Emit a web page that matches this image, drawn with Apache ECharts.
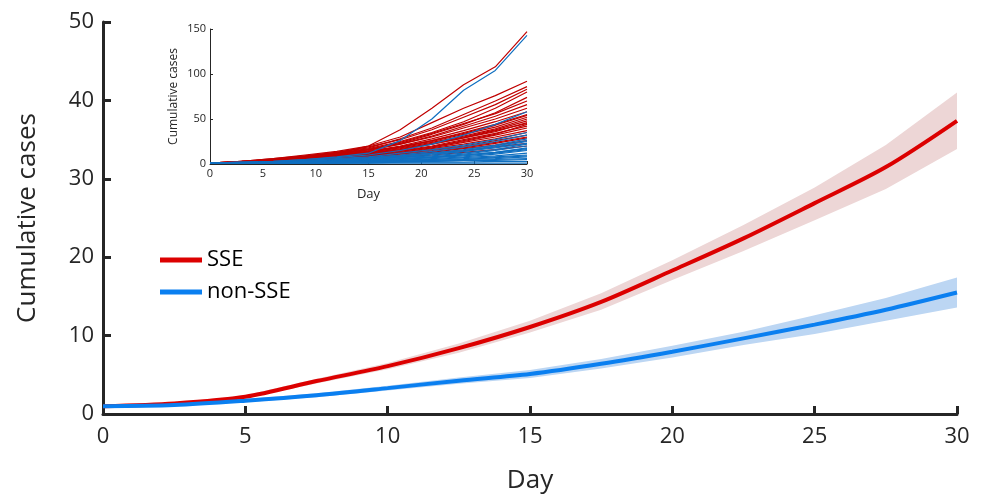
<!DOCTYPE html>
<html>
<head>
<meta charset="utf-8">
<script src="https://cdn.jsdelivr.net/npm/echarts@6/dist/echarts.min.js"></script>
<style>
  html, body { margin: 0; background: #fff; }
  #chart { width: 981px; height: 500px; }
</style>
</head>
<body>
<div id="chart"></div>
<script>
// main panel: mean curves with bands, read every 2.5 days
const days = [0, 2.5, 5, 7.5, 10, 12.5, 15, 17.5, 20, 22.5, 25, 27.5, 30];
const sseMean = [1.0, 1.35, 2.2, 4.2, 6.1, 8.4, 11.1, 14.3, 18.3, 22.4, 26.9, 31.5, 37.4];
const sseLow  = [1.0, 1.25, 2.0, 3.9, 5.7, 7.8, 10.4, 13.3, 17.1, 20.8, 24.7, 28.7, 33.8];
const sseHigh = [1.0, 1.45, 2.4, 4.5, 6.5, 9.0, 11.9, 15.4, 19.6, 24.1, 28.9, 34.3, 41.0];
const nonMean = [1.0, 1.15, 1.7, 2.4, 3.3, 4.25, 5.1, 6.4, 7.95, 9.65, 11.4, 13.3, 15.5];
const nonLow  = [0.9, 1.05, 1.5, 2.15, 3.0, 3.85, 4.6, 5.8, 7.2, 8.8, 10.2, 11.9, 13.6];
const nonHigh = [1.1, 1.25, 1.9, 2.65, 3.6, 4.65, 5.6, 7.0, 8.7, 10.5, 12.6, 14.8, 17.4];

// inset: individual runs, read every 3 days
const insetDays = [0, 3, 6, 9, 12, 15, 18, 21, 24, 27, 30];
const sseRuns = [
  [1, 3, 5, 8, 12, 20, 38, 62, 88, 108, 147],
  [1, 3, 6, 10, 14, 20, 30, 46, 62, 76, 92],
  [1, 2, 5, 9, 13, 18, 28, 40, 55, 70, 86],
  [1, 3, 6, 9, 13, 19, 27, 38, 52, 66, 83],
  [1, 2, 4, 8, 12, 17, 25, 35, 47, 62, 80],
  [1, 2, 4, 7, 11, 16, 23, 33, 44, 57, 74],
  [1, 2, 5, 8, 11, 16, 24, 34, 45, 56, 70],
  [1, 2, 4, 7, 11, 15, 22, 31, 42, 53, 66],
  [1, 3, 5, 8, 12, 16, 22, 30, 40, 50, 62],
  [1, 2, 4, 7, 10, 14, 20, 28, 37, 47, 58],
  [1, 2, 4, 6, 9, 13, 19, 26, 35, 44, 55],
  [1, 3, 5, 7, 10, 14, 19, 26, 34, 43, 54],
  [1, 2, 4, 7, 10, 14, 19, 25, 33, 41, 52],
  [1, 2, 4, 6, 9, 13, 18, 24, 31, 39, 50],
  [1, 2, 3, 6, 9, 12, 17, 23, 30, 38, 48],
  [1, 2, 3, 5, 8, 11, 16, 22, 29, 36, 46],
  [1, 2, 4, 6, 9, 12, 16, 22, 29, 37, 45],
  [1, 2, 3, 5, 7, 10, 14, 19, 26, 33, 44],
  [1, 2, 3, 5, 8, 11, 15, 20, 27, 34, 42],
  [1, 2, 4, 6, 8, 11, 14, 19, 25, 32, 40],
  [1, 2, 3, 5, 7, 10, 13, 18, 24, 30, 37],
  [1, 2, 3, 5, 7, 9, 12, 17, 22, 28, 35],
  [1, 2, 3, 4, 6, 9, 12, 16, 20, 26, 32],
  [1, 2, 3, 5, 7, 9, 12, 15, 19, 24, 30],
  [1, 2, 3, 4, 6, 8, 11, 14, 18, 23, 29],
  [1, 1, 2, 4, 5, 7, 10, 13, 17, 21, 26],
  [1, 1, 2, 3, 5, 7, 9, 12, 15, 19, 23],
  [1, 2, 3, 4, 5, 6, 8, 10, 13, 16, 20]
];
const nonRuns = [
  [1, 2, 3, 5, 8, 12, 26, 50, 82, 104, 143],
  [1, 2, 3, 5, 7, 10, 15, 22, 32, 44, 58],
  [1, 1, 2, 4, 6, 8, 12, 16, 21, 27, 35],
  [1, 1, 2, 3, 5, 7, 10, 14, 19, 25, 32],
  [1, 1, 2, 3, 4, 6, 9, 12, 16, 21, 28],
  [1, 1, 2, 3, 5, 6, 9, 12, 15, 20, 26],
  [1, 1, 2, 3, 4, 5, 7, 10, 14, 19, 25],
  [1, 1, 2, 3, 4, 6, 8, 11, 14, 18, 23],
  [1, 1, 2, 2, 3, 5, 7, 9, 12, 16, 22],
  [1, 1, 1, 2, 3, 4, 6, 8, 11, 15, 20],
  [1, 1, 1, 2, 3, 4, 5, 7, 10, 13, 18],
  [1, 1, 2, 2, 3, 4, 6, 8, 10, 13, 17],
  [1, 1, 2, 2, 3, 4, 5, 7, 9, 12, 16],
  [1, 1, 1, 2, 2, 3, 4, 6, 8, 11, 15],
  [1, 1, 1, 1, 2, 3, 4, 5, 7, 9, 12],
  [1, 1, 1, 2, 3, 3, 4, 5, 6, 8, 10],
  [1, 1, 1, 1, 2, 2, 3, 4, 5, 7, 9],
  [1, 1, 1, 2, 2, 3, 3, 4, 5, 6, 8],
  [1, 1, 1, 1, 1, 2, 2, 3, 4, 5, 6],
  [1, 1, 1, 1, 2, 2, 3, 3, 4, 4, 5],
  [1, 1, 1, 1, 1, 1, 2, 2, 2, 3, 3],
  [1, 1, 1, 1, 1, 1, 1, 1, 1, 1, 1]
];

const axisColor = "#262626";
const font = "Open Sans";

const pairs = (xs, ys) => xs.map((x, i) => [x, ys[i]]);

const chart = echarts.init(document.getElementById("chart"));

// shaded band: one polygon through the upper then lower bounds
function band(name, lo, hi, color) {
  return {
    name: name,
    type: "custom",
    silent: true,
    z: 1,
    data: days.map((d, i) => [d, lo[i], hi[i]]),
    encode: { x: 0, y: [1, 2] },
    renderItem: function (params, api) {
      if (params.dataIndex !== 0) return null;
      const pts = [];
      days.forEach((d, i) => pts.push(api.coord([d, hi[i]])));
      for (let i = days.length - 1; i >= 0; i--) pts.push(api.coord([days[i], lo[i]]));
      return {
        type: "polygon",
        shape: { points: pts },
        style: { fill: color }
      };
    }
  };
}

function runs(list, color, tag) {
  return list.map((r, i) => ({
    name: tag + i,
    type: "line",
    xAxisIndex: 1,
    yAxisIndex: 1,
    data: pairs(insetDays, r),
    symbol: "none",
    silent: true,
    lineStyle: { color: color, width: 1.2 },
    z: 3
  }));
}

let option = {
  backgroundColor: "#fff",
  animation: false,
  textStyle: { fontFamily: font },
  legend: {
    data: ["SSE", "non-SSE"],
    orient: "vertical",
    left: 155,
    top: 244,
    itemWidth: 42,
    itemHeight: 5,
    itemGap: 10,
    icon: "rect",
    textStyle: { fontSize: 22, color: "#000", fontFamily: font }
  },
  grid: [
    { left: 103, right: 24, top: 22, bottom: 86 },
    { left: 210, right: 454, top: 29, bottom: 336 }
  ],
  xAxis: [
    {
      type: "value",
      min: 0,
      max: 30,
      interval: 5,
      name: "Day",
      nameLocation: "middle",
      nameGap: 54,
      nameTextStyle: { fontSize: 26, color: axisColor },
      axisLine: { lineStyle: { color: axisColor, width: 3 } },
      axisTick: { inside: true, length: 8, lineStyle: { width: 3 } },
      axisLabel: { fontSize: 22, color: axisColor, margin: 12 },
      splitLine: { show: false }
    },
    {
      type: "value",
      gridIndex: 1,
      min: 0,
      max: 30,
      interval: 5,
      name: "Day",
      nameLocation: "middle",
      nameGap: 24,
      nameTextStyle: { fontSize: 13, color: axisColor },
      axisLine: { lineStyle: { color: axisColor, width: 1 } },
      axisTick: { inside: true, length: 3 },
      axisLabel: { fontSize: 11, color: axisColor, margin: 4 },
      splitLine: { show: false }
    }
  ],
  yAxis: [
    {
      type: "value",
      min: 0,
      max: 50,
      interval: 10,
      name: "Cumulative cases",
      nameLocation: "middle",
      nameGap: 62,
      nameTextStyle: { fontSize: 26, color: axisColor },
      axisLine: { show: true, lineStyle: { color: axisColor, width: 3 } },
      axisTick: { show: true, inside: true, length: 8, lineStyle: { width: 3 } },
      axisLabel: { fontSize: 22, color: axisColor, margin: 9 },
      splitLine: { show: false }
    },
    {
      type: "value",
      gridIndex: 1,
      min: 0,
      max: 150,
      interval: 50,
      name: "Cumulative cases",
      nameLocation: "middle",
      nameGap: 30,
      nameTextStyle: { fontSize: 12, color: axisColor },
      axisLine: { show: true, lineStyle: { color: axisColor, width: 1 } },
      axisTick: { show: true, inside: true, length: 3 },
      axisLabel: { fontSize: 11, color: axisColor, margin: 4 },
      splitLine: { show: false }
    }
  ],
  series: [
    band("sseBand", sseLow, sseHigh, "#edd6d6"),
    band("nonBand", nonLow, nonHigh, "#bcd6f3"),
    {
      name: "SSE",
      type: "line",
      data: pairs(days, sseMean),
      symbol: "none",
      smooth: 0.3,
      color: "#dc0000",
      lineStyle: { width: 4, color: "#dc0000" },
      z: 4
    },
    {
      name: "non-SSE",
      type: "line",
      data: pairs(days, nonMean),
      symbol: "none",
      smooth: 0.3,
      color: "#0a7ff0",
      lineStyle: { width: 4, color: "#0a7ff0" },
      z: 4
    },
    ...runs(sseRuns, "#c00000", "sse"),
    ...runs(nonRuns, "#0f6fc0", "non")
  ]
};

chart.setOption(option);
</script>
</body>
</html>
